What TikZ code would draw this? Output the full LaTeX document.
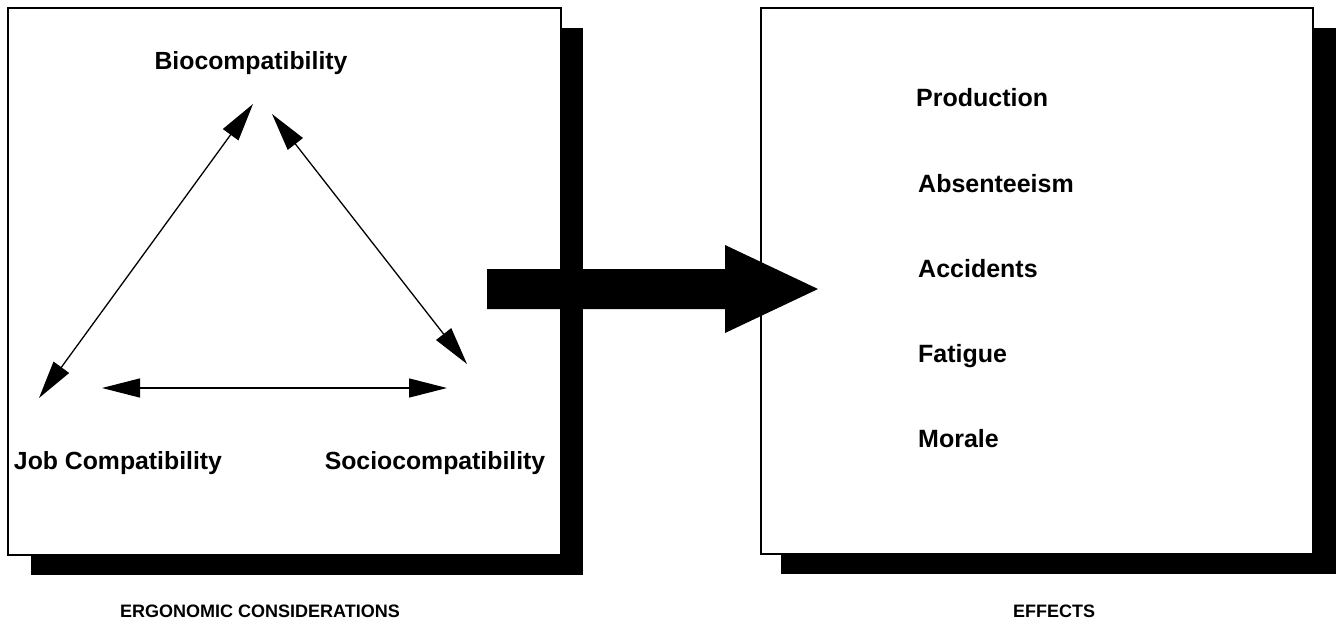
\documentclass[tikz,border=0pt]{standalone}
\usepackage{fontspec}
\setmainfont{Liberation Sans}
\usetikzlibrary{arrows.meta}
\begin{document}
\begin{tikzpicture}[x=1pt,y=-1pt,
  lbl/.style={font=\fontsize{24.8}{28}\selectfont\bfseries, inner sep=0pt, anchor=base},
  efx/.style={font=\fontsize{25}{28}\selectfont\bfseries, inner sep=0pt, anchor=base west},
  captext/.style={font=\fontsize{18}{21}\selectfont\bfseries, inner sep=0pt, anchor=base},
  panel/.style={draw=black, fill=white, line width=1.8pt},
  shadowbox/.style={fill=black, draw=none},
  rel/.style={line width=1.3pt, {Triangle[length=38pt,width=19pt]}-{Triangle[length=38pt,width=19pt]}}]
\useasboundingbox (0,0) rectangle (1337,626);
% shadows
\fill[shadowbox] (31,28) rectangle (583,575);
\fill[shadowbox] (781,28) rectangle (1336,574);
% panels
\draw[panel] (8,8) rectangle (561,555);
\draw[panel] (761,8) rectangle (1313,554);
% left panel texts
\node[lbl] (bio) at (251,70) {Biocompatibility};
\node[lbl] (job) at (118,469) {Job Compatibility};
\node[lbl] (soc) at (435,469) {Sociocompatibility};
% arrow end points
\coordinate (bioL) at (253,104);
\coordinate (bioR) at (272,114);
\coordinate (jobT) at (39,398);
\coordinate (socT) at (467,364);
\coordinate (jobR) at (102,388);
\coordinate (socL) at (447,388);
\draw[rel] (bioL) -- (jobT);
\draw[rel] (bioR) -- (socT);
\draw[rel] (jobR) -- (socL);
% big arrow
\fill[black] (487,269) -- (725,269) -- (725,245) -- (818,289) -- (725,333) -- (725,309) -- (487,309) -- cycle;
% right panel texts
\node[efx] (prod) at (916,106) {Production};
\node[efx] (abs) at (918,192) {Absenteeism};
\node[efx] (acc) at (918,277) {Accidents};
\node[efx] (fat) at (918,362) {Fatigue};
\node[efx] (mor) at (918,447) {Morale};
% captions
\node[captext] (ergo) at (260,617) {ERGONOMIC CONSIDERATIONS};
\node[captext] (eff) at (1054,617) {EFFECTS};
\end{tikzpicture}
\end{document}
